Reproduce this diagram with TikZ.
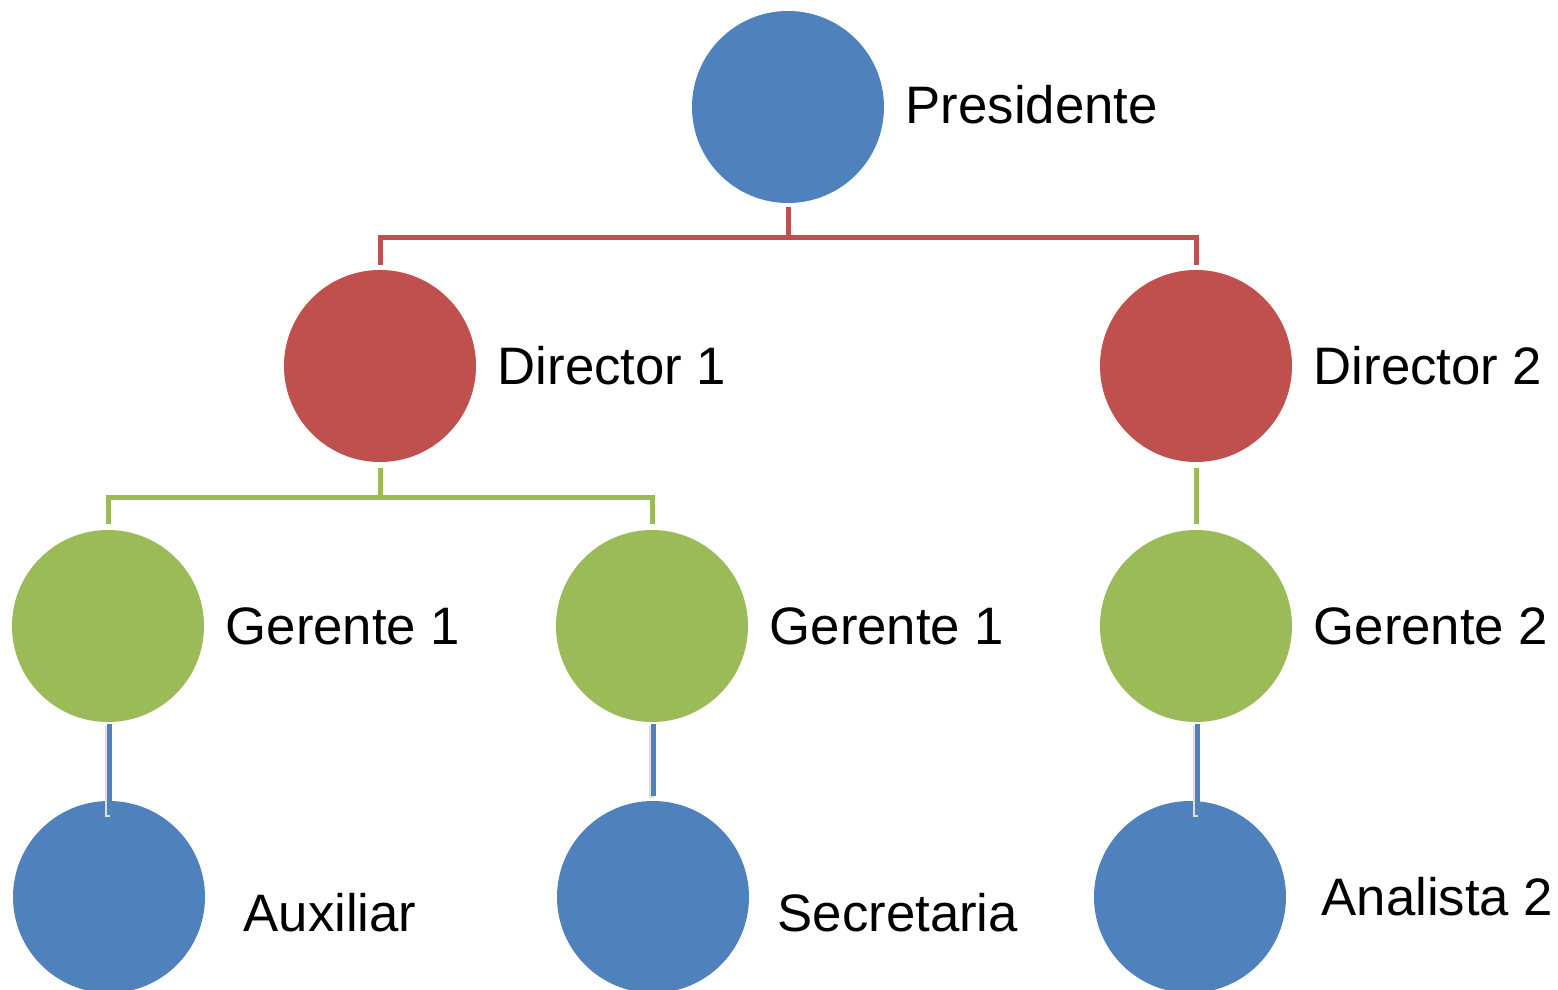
\documentclass[tikz,border=0pt]{standalone}
\usepackage{fontspec}
\setmainfont{Liberation Sans}
\definecolor{orgblue}{HTML}{4F81BD}
\definecolor{orgred}{HTML}{C0504D}
\definecolor{orggreen}{HTML}{9BBB59}
\begin{document}
\begin{tikzpicture}

\tikzset{person/.style={circle, minimum size=1.92cm, inner sep=0pt}}
\tikzset{role/.style={anchor=west, inner sep=0pt, font=\fontsize{15}{18}\selectfont}}
\tikzset{link/.style={line width=0.05cm}}

\useasboundingbox (0, 0) rectangle (15.58, -9.9);

% presidente
\node[person, fill=orgblue] at ( 7.88, -1.07) (pres) {};
\node[role] at ( 9.05, -1.05) (presl) {Presidente};

% directores
\node[person, fill=orgred] at ( 3.80, -3.66) (dir1) {};
\node[person, fill=orgred] at (11.96, -3.66) (dir2) {};
\node[role] at ( 4.97, -3.66) (dir1l) {Director 1};
\node[role] at (13.13, -3.66) (dir2l) {Director 2};

% gerentes
\node[person, fill=orggreen] at ( 1.08, -6.26) (ger1) {};
\node[person, fill=orggreen] at ( 6.52, -6.26) (ger1b) {};
\node[person, fill=orggreen] at (11.96, -6.26) (ger2) {};
\node[role] at ( 2.25, -6.26) (ger1l) {Gerente 1};
\node[role] at ( 7.69, -6.26) (ger1bl) {Gerente 1};
\node[role] at (13.13, -6.26) (ger2l) {Gerente 2};

% auxiliar, secretaria, analista
\node[person, fill=orgblue] at ( 1.09, -8.97) (aux) {};
\node[person, fill=orgblue] at ( 6.53, -8.97) (sec) {};
\node[person, fill=orgblue] at (11.90, -8.97) (ana) {};
\node[role] at ( 2.43, -9.13) (auxl) {Auxiliar};
\node[role] at ( 7.77, -9.13) (secl) {Secretaria};
\node[role] at (13.21, -8.97) (anal) {Analista 2};

% connector points
\coordinate (presdown) at ( 7.88, -2.07);
\coordinate (redbar) at ( 7.88, -2.37);
\coordinate (dir1up) at ( 3.80, -2.65);
\coordinate (dir2up) at (11.96, -2.65);
\coordinate (dir1down) at ( 3.80, -4.68);
\coordinate (greenbar) at ( 3.80, -4.97);
\coordinate (ger1up) at ( 1.08, -5.24);
\coordinate (ger1bup) at ( 6.52, -5.24);
\coordinate (dir2down) at (11.96, -4.68);
\coordinate (ger2up) at (11.96, -5.24);
\coordinate (ger1down) at ( 1.09, -7.24);
\coordinate (ger1bdown) at ( 6.53, -7.24);
\coordinate (ger2down) at (11.97, -7.24);
\coordinate (auxup) at ( 1.09, -8.15);
\coordinate (secup) at ( 6.53, -7.96);
\coordinate (anaup) at (11.97, -8.15);

% interactions
\draw[link, orgred] (presdown) -- (redbar);
\draw[link, orgred] (dir1up) |- (redbar) -| (dir2up);
\draw[link, orggreen] (dir1down) -- (greenbar);
\draw[link, orggreen] (ger1up) |- (greenbar) -| (ger1bup);
\draw[link, orggreen] (dir2down) -- (ger2up);
\foreach \a/\b in {ger1down/auxup, ger1bdown/secup, ger2down/anaup}
  \draw[link, black!12, transform canvas={xshift=-0.015cm, yshift=-0.015cm}] (\a) -- (\b);
\draw[link, orgblue] (ger1down) -- (auxup);
\draw[link, orgblue] (ger1bdown) -- (secup);
\draw[link, orgblue] (ger2down) -- (anaup);

\end{tikzpicture}
\end{document}
